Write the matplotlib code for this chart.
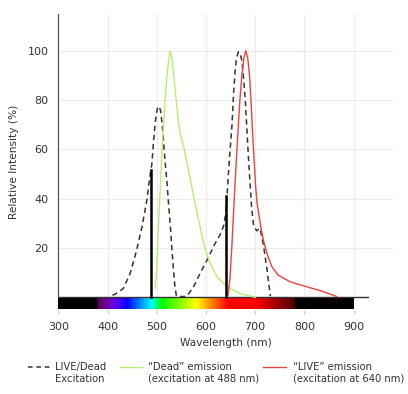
import numpy as np
import matplotlib.pyplot as plt
from matplotlib.lines import Line2D

# LIVE/Dead excitation (dashed)
exc_nm = [410, 420, 432, 446, 459, 470, 480, 485, 490, 493, 497, 501, 505, 508, 511,
          514, 517, 521, 524, 528, 531, 534, 537, 540, 550, 561, 575, 588, 602, 619,
          629, 636, 641, 644, 648, 653, 656, 659, 662, 666, 670, 673, 676, 680, 683,
          686, 690, 693, 697, 703, 710, 717, 724, 728, 731]
exc_val = [0.8, 1.8, 3.6, 9.7, 19, 28.6, 39.5, 47.6, 54, 62, 71, 76.5, 77.5, 75.5, 70,
           63, 55, 46, 38, 28, 19, 11, 4.3, 0.5, 0.3, 0.4, 4.3, 9.7, 15, 22,
           25.5, 29, 35, 45, 57, 70, 82, 91, 97, 99.6, 98.5, 96, 90, 80, 69,
           58, 45, 36, 29, 27, 28, 21, 11.5, 5, 0.5]

# "Dead" emission (green)
dead_nm = [497, 500, 503, 508, 513, 517, 520, 524, 527, 531, 534, 538, 541, 544, 547,
           552, 556, 566, 576, 588, 598, 608, 622, 636, 650, 670, 700]
dead_val = [3.6, 12, 27, 48, 68, 80, 88, 96, 100, 97, 91, 83, 77, 71, 67,
            63, 60, 50, 40, 28.6, 20, 14, 8.5, 5.5, 3.5, 1.5, 0]

# "LIVE" emission (red)
live_nm = [645, 649, 653, 657, 661, 665, 669, 673, 677, 681, 685, 689, 692, 695, 698,
           701, 704, 708, 712, 717, 724, 734, 747, 771, 805, 839, 866]
live_val = [1, 8, 22, 38, 53, 67, 80, 90, 97, 100, 97, 89, 78, 66, 55,
            45, 38, 33, 28, 23, 17.8, 12.4, 9, 6.3, 4.3, 2.3, 0.3]

# laser lines
laser_nm = [488, 640]
laser_val = [51.5, 41.2]

x_ticks = [300, 400, 500, 600, 700, 800, 900]
y_ticks = [20, 40, 60, 80, 100]
legend_labels = ['LIVE/Dead\nExcitation',
                 '\u201cDead\u201d emission\n(excitation at 488 nm)',
                 '\u201cLIVE\u201d emission\n(excitation at 640 nm)']


def wl_rgb(w):
    # rough visible spectrum colour
    if w < 380 or w > 780:
        return (0, 0, 0)
    if w < 440:
        r, g, b = -(w - 440) / 60, 0, 1
    elif w < 490:
        r, g, b = 0, (w - 440) / 50, 1
    elif w < 510:
        r, g, b = 0, 1, -(w - 510) / 20
    elif w < 580:
        r, g, b = (w - 510) / 70, 1, 0
    elif w < 645:
        r, g, b = 1, -(w - 645) / 65, 0
    else:
        r, g, b = 1, 0, 0
    if w < 420:
        f = 0.3 + 0.7 * (w - 380) / 40
    elif w > 700:
        f = 0.3 + 0.7 * (780 - w) / 80
    else:
        f = 1
    return (r * f, g * f, b * f)


fig = plt.figure(figsize=(4.08, 3.94), dpi=100)
ax = fig.add_axes([0.143, 0.214, 0.82, 0.751])

ax.set_xlim(300, 980)
ax.set_ylim(-5, 115)

for x in x_ticks[1:]:
    ax.plot([x, x], [0, 115], color='#ececec', lw=0.8, zorder=0)
for y in y_ticks:
    ax.plot([300, 980], [y, y], color='#ececec', lw=0.8, zorder=0)

wl = np.arange(300, 901)
spec = np.array([[wl_rgb(w) for w in wl]])
ax.imshow(spec, extent=[300, 900, -4.6, 0], aspect='auto', interpolation='bilinear', zorder=1)

ax.plot([300, 930], [0, 0], color='#333333', lw=1.0, zorder=2)

ax.plot(exc_nm, exc_val, color='#333333', lw=1.1, ls=(0, (3.5, 2.5)), zorder=3)
ax.plot(dead_nm, dead_val, color='#b6f06c', lw=1.0, zorder=3)
ax.plot(live_nm, live_val, color='#e8433f', lw=1.0, zorder=3)
for x, v in zip(laser_nm, laser_val):
    ax.plot([x, x], [0, v], color='black', lw=1.8, zorder=4)

for s in ['top', 'right', 'bottom']:
    ax.spines[s].set_visible(False)
ax.spines['left'].set_bounds(0, 115)
ax.spines['left'].set_color('#555555')
ax.spines['left'].set_linewidth(0.9)

ax.set_xticks(x_ticks)
ax.set_yticks(y_ticks)
ax.tick_params(axis='x', length=3, color='#cccccc', pad=6, labelsize=8, labelcolor='#333333')
ax.tick_params(axis='y', length=0, pad=7, labelsize=8, labelcolor='#333333')
ax.set_xlabel('Wavelength (nm)', fontsize=7.6, color='#333333', labelpad=4)
ax.set_ylabel('Relative Intensity (%)', fontsize=7.6, color='#333333', labelpad=6)

# legend drawn by hand
handle_x = [0.069, 0.294, 0.645]
text_x = [0.135, 0.363, 0.718]
styles = [dict(color='#333333', ls=(0, (3, 2.5)), lw=1.1),
          dict(color='#b6f06c', lw=1.0),
          dict(color='#e8433f', lw=1.0)]
for hx, tx, st, lab in zip(handle_x, text_x, styles, legend_labels):
    fig.add_artist(Line2D([hx, hx + 0.055], [0.068, 0.068], transform=fig.transFigure, **st))
    fig.text(tx, 0.082, lab, fontsize=7.2, color='#333333', va='top', ha='left', linespacing=1.25)

fig.savefig('out.png', dpi=100)
